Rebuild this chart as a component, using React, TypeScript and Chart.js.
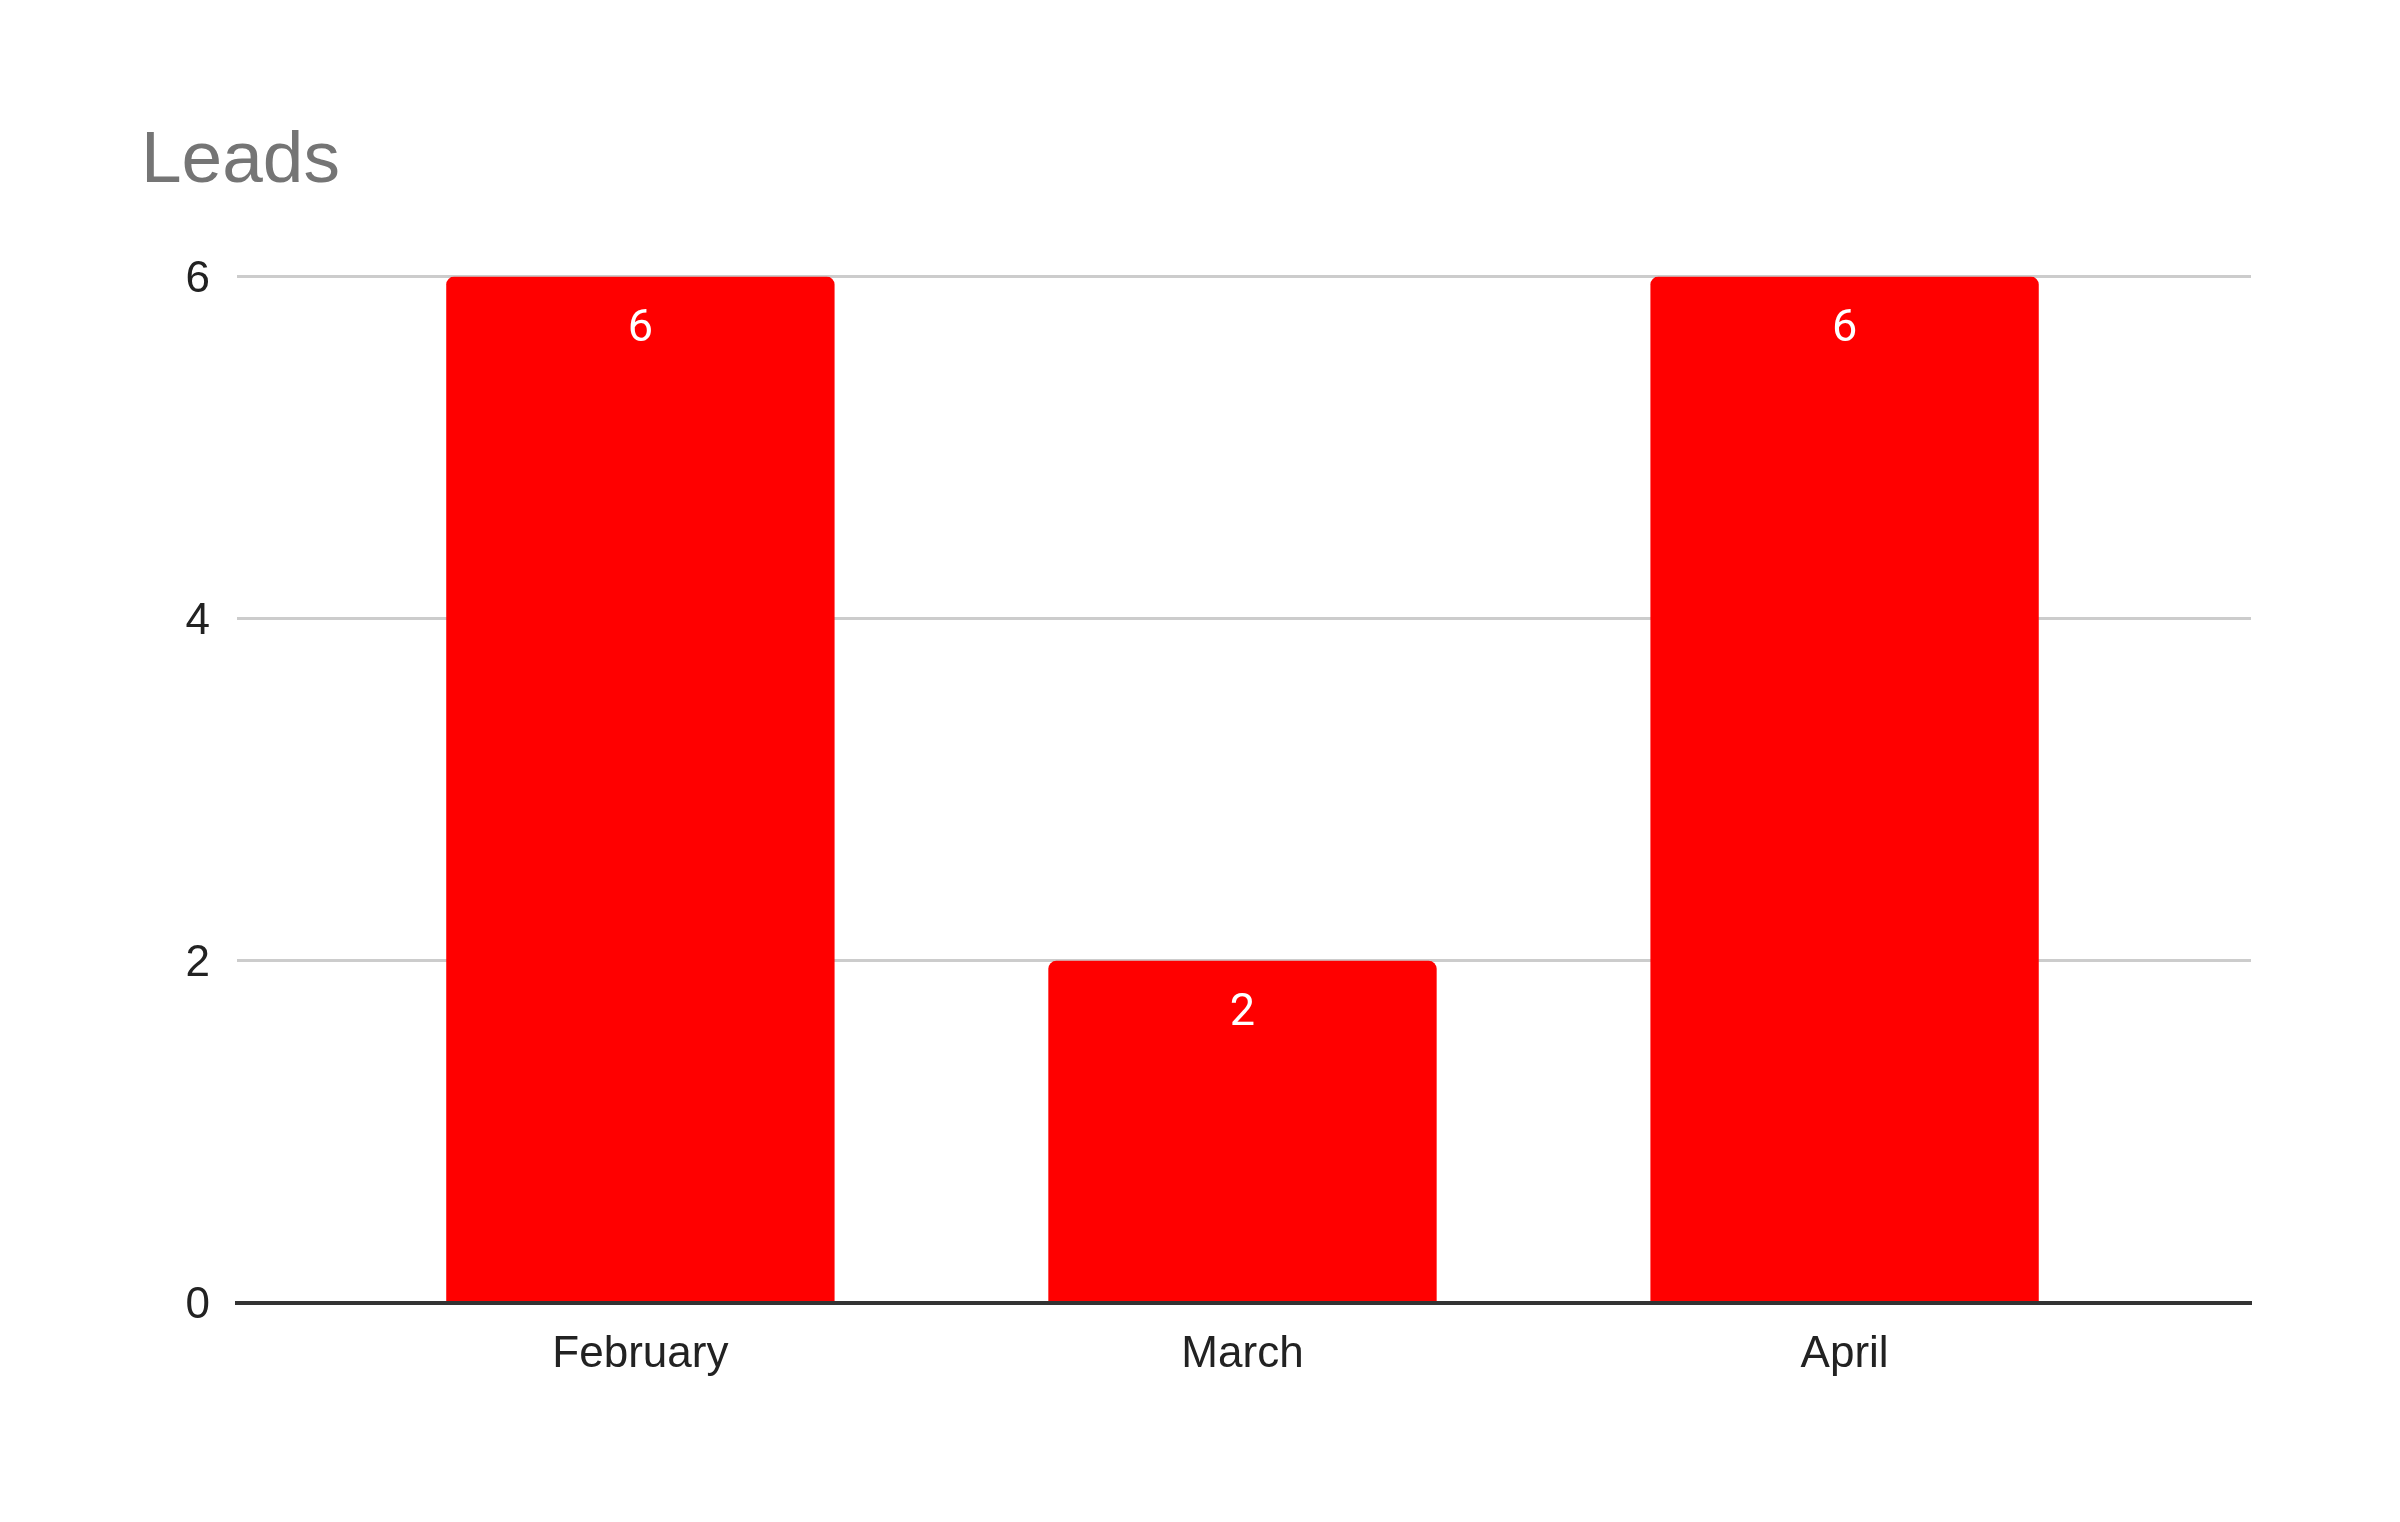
import React, { useEffect, useRef } from "react";
import { Chart, registerables } from "chart.js";

Chart.register(...registerables);

const categories: string[] = ["February", "March", "April"];
const leads: number[] = [6, 2, 6];
const yTicks: number[] = [0, 2, 4, 6];
const chartTitle = "Leads";

const valueLabels = {
  id: "valueLabels",
  afterDatasetsDraw(chart: any) {
    const ctx = chart.ctx;
    const meta = chart.getDatasetMeta(0);
    ctx.save();
    ctx.fillStyle = "#ffffff";
    ctx.font = "45px Roboto";
    ctx.textAlign = "center";
    ctx.textBaseline = "middle";
    meta.data.forEach((bar: any, i: number) => {
      ctx.fillText(String(leads[i]), bar.x, bar.y + 53);
    });
    ctx.restore();
  },
};

export default function App() {
  const ref = useRef<HTMLCanvasElement | null>(null);

  useEffect(() => {
    if (!ref.current) return;
    const chart = new Chart(ref.current, {
      type: "bar",
      data: {
        datasets: [
          {
            label: chartTitle,
            data: categories.map((c, i) => ({ x: i, y: leads[i] })),
            backgroundColor: "#ff0000",
            borderWidth: 0,
            borderRadius: { topLeft: 8, topRight: 8, bottomLeft: 0, bottomRight: 0 },
            borderSkipped: "bottom",
            barPercentage: 0.645,
            categoryPercentage: 1,
          },
        ],
      },
      options: {
        animation: false,
        responsive: false,
        maintainAspectRatio: false,
        devicePixelRatio: 1,
        layout: { padding: { left: 133, right: 141, top: 0, bottom: 0 } },
        plugins: {
          legend: { display: false },
          tooltip: { enabled: false },
          title: {
            display: true,
            text: chartTitle,
            align: "start",
            color: "#757575",
            font: { family: "'Liberation Sans', Arial, sans-serif", size: 73, weight: "normal" },
            padding: { top: 110, bottom: 71 },
          },
        },
        scales: {
          x: {
            type: "linear",
            min: -0.67,
            max: 2.675,
            offset: false,
            grid: { display: false, drawTicks: false },
            border: { display: true, color: "#333333", width: 4, z: 1 },
            afterBuildTicks: (scale: any) => {
              scale.ticks = categories.map((c, i) => ({ value: i }));
            },
            afterFit: (scale: any) => {
              scale.height = 211;
            },
            ticks: {
              autoSkip: false,
              maxRotation: 0,
              padding: 25,
              color: "#222222",
              font: { family: "'Liberation Sans', Arial, sans-serif", size: 44 },
              callback: (v: any) => categories[v] ?? "",
            },
          },
          y: {
            min: 0,
            max: 6,
            grid: {
              drawTicks: false,
              color: (c: any) => (c.tick && c.tick.value === 0 ? "rgba(0,0,0,0)" : "#cccccc"),
              lineWidth: 3,
            },
            border: { display: false },
            afterBuildTicks: (scale: any) => {
              scale.ticks = yTicks.map((v) => ({ value: v }));
            },
            afterFit: (scale: any) => {
              scale.width = 96;
            },
            ticks: {
              padding: 27,
              labelOffset: 3,
              color: "#222222",
              font: { family: "'Liberation Sans', Arial, sans-serif", size: 44 },
            },
          },
        },
      },
      plugins: [valueLabels],
    });
    return () => chart.destroy();
  }, []);

  return (
    <div style={{ width: 2384, height: 1506 }}>
      <canvas ref={ref} width={2384} height={1506} style={{ width: 2384, height: 1506, display: "block" }} />
    </div>
  );
}
